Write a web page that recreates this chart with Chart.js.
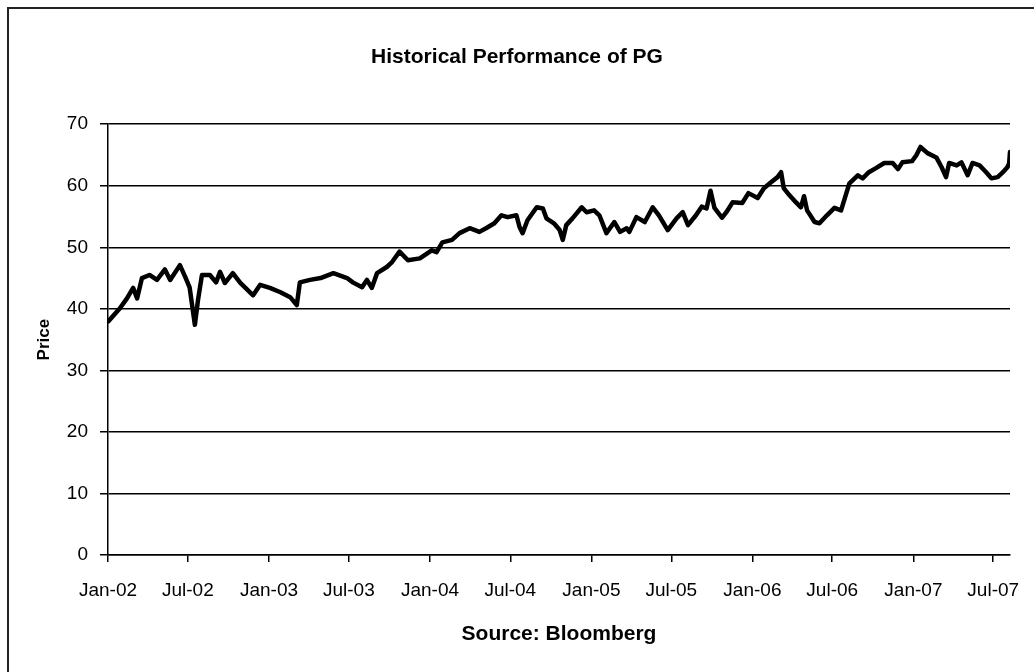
<!DOCTYPE html>
<html>
<head>
<meta charset="utf-8">
<title>Historical Performance of PG</title>
<script src="https://cdn.jsdelivr.net/npm/chart.js@4.4.1/dist/chart.umd.min.js"></script>
<style>
  html, body { margin: 0; padding: 0; background: #fff; overflow: hidden; }
  #wrap { position: relative; width: 1034px; height: 672px; }
  #frame { position: absolute; left: 7px; top: 7px; width: 1100px; height: 720px; border: 2px solid #222; pointer-events: none; }
</style>
</head>
<body>
<div id="wrap">
  <canvas id="myChart" width="1034" height="672"></canvas>
  <div id="frame"></div>
</div>
<script>
// PG closing prices
const dates = [
  '2002-01-02', '2002-01-28', '2002-02-13', '2002-02-27', '2002-03-08', '2002-03-19', '2002-04-05', '2002-04-22',
  '2002-05-10', '2002-05-22', '2002-06-13', '2002-06-25', '2002-07-05', '2002-07-17', '2002-07-24', '2002-08-02',
  '2002-08-20', '2002-09-03', '2002-09-12', '2002-09-23', '2002-10-11', '2002-10-28', '2002-11-26', '2002-12-12',
  '2003-01-03', '2003-01-27', '2003-02-18', '2003-03-05', '2003-03-12', '2003-04-04', '2003-04-28', '2003-05-27',
  '2003-06-27', '2003-07-10', '2003-07-31', '2003-08-11', '2003-08-22', '2003-09-03', '2003-09-25', '2003-10-07',
  '2003-10-24', '2003-11-12', '2003-12-09', '2004-01-05', '2004-01-16', '2004-01-29', '2004-02-20', '2004-03-08',
  '2004-03-31', '2004-04-22', '2004-05-07', '2004-05-26', '2004-06-11', '2004-06-25', '2004-07-15', '2004-07-22',
  '2004-07-29', '2004-08-09', '2004-08-30', '2004-09-13', '2004-09-21', '2004-10-08', '2004-10-21', '2004-10-28',
  '2004-11-05', '2004-11-19', '2004-12-10', '2004-12-21', '2005-01-07', '2005-01-19', '2005-02-04', '2005-02-22',
  '2005-03-07', '2005-03-22', '2005-03-28', '2005-04-13', '2005-05-02', '2005-05-20', '2005-06-03', '2005-06-23',
  '2005-07-13', '2005-07-27', '2005-08-08', '2005-08-26', '2005-09-08', '2005-09-19', '2005-09-28', '2005-10-07',
  '2005-10-24', '2005-11-03', '2005-11-17', '2005-12-09', '2005-12-23', '2006-01-13', '2006-01-27', '2006-02-13',
  '2006-02-27', '2006-03-07', '2006-03-13', '2006-03-22', '2006-04-11', '2006-04-21', '2006-04-28', '2006-05-05',
  '2006-05-22', '2006-06-02', '2006-06-19', '2006-07-06', '2006-07-21', '2006-08-02', '2006-08-09', '2006-08-28',
  '2006-09-08', '2006-09-22', '2006-10-09', '2006-10-27', '2006-11-15', '2006-11-27', '2006-12-07', '2006-12-29',
  '2007-01-08', '2007-01-17', '2007-02-02', '2007-02-22', '2007-03-06', '2007-03-16', '2007-03-23', '2007-04-09',
  '2007-04-20', '2007-05-04', '2007-05-15', '2007-05-31', '2007-06-15', '2007-06-27', '2007-07-11', '2007-07-23',
  '2007-08-02', '2007-08-06', '2007-08-08'
]
const prices = [
  38.0, 40.1, 41.7, 43.4, 41.7, 45.0, 45.5, 44.7,
  46.4, 44.7, 47.1, 45.2, 43.5, 37.4, 41.4, 45.5,
  45.5, 44.3, 46.0, 44.2, 45.8, 44.2, 42.2, 43.9,
  43.4, 42.7, 41.9, 40.6, 44.3, 44.7, 45.0, 45.8,
  45.0, 44.3, 43.5, 44.7, 43.4, 45.8, 46.8, 47.6,
  49.3, 47.9, 48.2, 49.5, 49.2, 50.8, 51.2, 52.3,
  53.1, 52.5, 53.1, 53.9, 55.2, 54.9, 55.2, 53.3,
  52.3, 54.4, 56.5, 56.3, 54.7, 53.9, 52.8, 51.2,
  53.6, 54.7, 56.5, 55.7, 56.0, 55.2, 52.3, 54.1,
  52.5, 53.1, 52.5, 54.9, 54.1, 56.5, 55.2, 52.8,
  54.7, 55.7, 53.6, 55.2, 56.6, 56.3, 59.2, 56.4,
  54.8, 55.7, 57.3, 57.2, 58.8, 58.0, 59.6, 60.6,
  61.4, 62.2, 59.6, 58.8, 57.2, 56.5, 58.3, 56.0,
  54.1, 53.9, 55.2, 56.4, 56.0, 58.8, 60.4, 61.7,
  61.2, 62.2, 62.9, 63.7, 63.7, 62.7, 63.8, 64.0,
  65.0, 66.3, 65.3, 64.6, 63.0, 61.4, 63.7, 63.3,
  63.8, 61.7, 63.7, 63.3, 62.2, 61.2, 61.4, 62.2,
  63.0, 63.6, 65.5
]

// x axis labels every six months
const tickDates = [
  '2002-01-01', '2002-07-01', '2003-01-01', '2003-07-01', '2004-01-01', '2004-07-01',
  '2005-01-01', '2005-07-01', '2006-01-01', '2006-07-01', '2007-01-01', '2007-07-01'
]
const tickLabels = [
  'Jan-02', 'Jul-02', 'Jan-03', 'Jul-03', 'Jan-04', 'Jul-04',
  'Jan-05', 'Jul-05', 'Jan-06', 'Jul-06', 'Jan-07', 'Jul-07'
]

// no date adapter offline, so dates become day numbers on a linear axis
const origin = Date.UTC(2002, 0, 1)
function toDay(s) {
  const [y, m, d] = s.split('-').map(Number)
  return (Date.UTC(y, m - 1, d) - origin) / 86400000
}

const points = dates.map((d, i) => ({ x: toDay(d), y: prices[i] }))
const tickValues = tickDates.map(toDay)
const family = 'Liberation Sans, Arial, sans-serif'

const ctx = document.getElementById('myChart').getContext('2d')
const myChart = new Chart(ctx, {
  type: 'line',
  data: {
    datasets: [{
      label: 'PG',
      data: points,
      borderColor: '#000',
      borderWidth: 4.5,
      borderJoinStyle: 'round',
      borderCapStyle: 'round',
      pointRadius: 0,
      tension: 0,
      fill: false
    }]
  },
  options: {
    responsive: false,
    animation: false,
    devicePixelRatio: 1,
    layout: { padding: 0 },
    plugins: {
      legend: { display: false },
      tooltip: { enabled: false },
      title: {
        display: true,
        text: 'Historical Performance of PG',
        color: '#000',
        font: { family, size: 21, weight: 'bold' },
        padding: { top: 45, bottom: 54 }
      }
    },
    scales: {
      x: {
        type: 'linear',
        min: tickValues[0],
        max: toDay(dates[dates.length - 1]),
        afterBuildTicks: scale => {
          scale.ticks = tickValues.map(v => ({ value: v }))
        },
        afterFit: scale => {
          scale.height = 117
          // keep the plot clear of the right edge without moving the centred title
          scale.paddingRight = 24
        },
        ticks: {
          autoSkip: false,
          maxRotation: 0,
          padding: 17,
          color: '#000',
          font: { family, size: 19 },
          callback: (value, index) => tickLabels[index]
        },
        grid: { drawOnChartArea: false, drawTicks: true, tickLength: 7, color: '#000', lineWidth: 1.5 },
        border: { display: true, color: '#000', width: 1.5 },
        title: {
          display: true,
          text: 'Source: Bloomberg',
          color: '#000',
          font: { family, size: 21, weight: 'bold' },
          padding: { top: 0, bottom: 25 }
        }
      },
      y: {
        min: 0,
        max: 70,
        afterFit: scale => {
          scale.width = 108
        },
        ticks: { stepSize: 10, padding: 12, color: '#000', font: { family, size: 19 } },
        grid: { color: '#000', lineWidth: 1.5, tickLength: 8 },
        border: { display: true, color: '#000', width: 1.5 },
        title: {
          display: true,
          text: 'Price',
          color: '#000',
          font: { family, size: 17, weight: 'bold' },
          padding: { top: 34, bottom: 0 }
        }
      }
    }
  }
})
</script>
</body>
</html>
